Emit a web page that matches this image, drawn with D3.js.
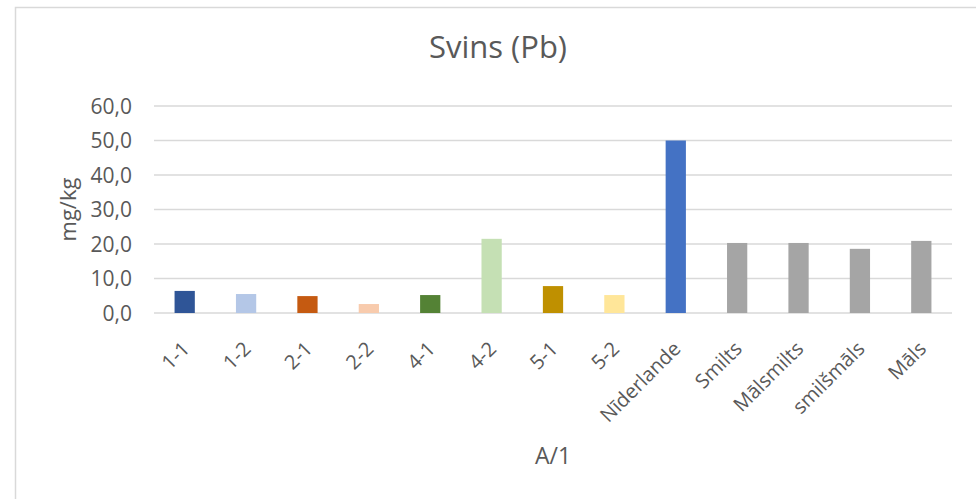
<!DOCTYPE html>
<html>
<head>
<meta charset="utf-8">
<script src="https://cdn.jsdelivr.net/npm/d3@7"></script>
<style>
  body { margin: 0; background: #fff; }
  text { font-family: "Open Sans", "Noto Sans", sans-serif; fill: #595959; }
</style>
</head>
<body>
<div id="chart"></div>
<script>
// data
const categories = ["1-1", "1-2", "2-1", "2-2", "4-1", "4-2", "5-1", "5-2",
  "Nīderlande", "Smilts", "Mālsmilts", "smilšmāls", "Māls"];
const values = [6.4, 5.5, 4.9, 2.6, 5.2, 21.5, 7.8, 5.2, 50.0, 20.3, 20.3, 18.6, 20.9];
const barColors = ["#2F5597", "#B4C7E7", "#C55A11", "#F8CBAD", "#548235", "#C5E0B4",
  "#BF9000", "#FFE699", "#4472C4", "#A5A5A5", "#A5A5A5", "#A5A5A5", "#A5A5A5"];
const yTicks = [0, 10, 20, 30, 40, 50, 60];

const data = categories.map((c, i) => ({ cat: c, val: values[i], color: barColors[i] }));

const width = 976, height = 499;
const margin = { top: 106, right: 24, bottom: 186, left: 154 };

const svg = d3.select("#chart").append("svg")
  .attr("width", width)
  .attr("height", height);

// chart border
svg.append("rect")
  .attr("x", 15.5).attr("y", 7.5)
  .attr("width", width + 10).attr("height", height + 10)
  .attr("fill", "none")
  .attr("stroke", "#d9d9d9")
  .attr("stroke-width", 1.5);

const x = d3.scaleBand()
  .domain(categories)
  .range([margin.left, width - margin.right])
  .paddingInner(0.67)
  .paddingOuter(0.335);

const y = d3.scaleLinear()
  .domain([0, 60])
  .range([height - margin.bottom, margin.top]);

// gridlines
svg.append("g")
  .selectAll("line")
  .data(yTicks)
  .join("line")
  .attr("x1", margin.left)
  .attr("x2", width - margin.right)
  .attr("y1", d => y(d))
  .attr("y2", d => y(d))
  .attr("stroke", "#d9d9d9")
  .attr("stroke-width", 1.5);

// y tick labels
svg.append("g")
  .selectAll("text")
  .data(yTicks)
  .join("text")
  .attr("x", margin.left - 22)
  .attr("y", d => y(d))
  .attr("dy", "0.36em")
  .attr("text-anchor", "end")
  .style("font-size", "21px")
  .text(d => d3.format(".1f")(d).replace(".", ","));

// bars
svg.append("g")
  .selectAll("rect")
  .data(data)
  .join("rect")
  .attr("x", d => x(d.cat))
  .attr("width", x.bandwidth())
  .attr("y", d => y(d.val))
  .attr("height", d => y(0) - y(d.val))
  .attr("fill", d => d.color);

// x labels
svg.append("g")
  .selectAll("text")
  .data(categories)
  .join("text")
  .attr("transform", d => `translate(${x(d) + x.bandwidth() / 2 + 1},${y(0) + 32}) rotate(-45)`)
  .attr("text-anchor", "end")
  .attr("dy", "0.36em")
  .style("font-size", "20px")
  .text(d => d);

// title
svg.append("text")
  .attr("x", (margin.left + width - margin.right) / 2 - 55)
  .attr("y", 58)
  .attr("text-anchor", "middle")
  .style("font-size", "31px")
  .text("Svins (Pb)");

// axis titles
svg.append("text")
  .attr("x", (margin.left + width - margin.right) / 2)
  .attr("y", 464)
  .attr("text-anchor", "middle")
  .style("font-size", "23px")
  .text("A/1");

svg.append("text")
  .attr("transform", `translate(76,${(y(0) + y(60)) / 2}) rotate(-90)`)
  .attr("text-anchor", "middle")
  .style("font-size", "22px")
  .text("mg/kg");
</script>
</body>
</html>
